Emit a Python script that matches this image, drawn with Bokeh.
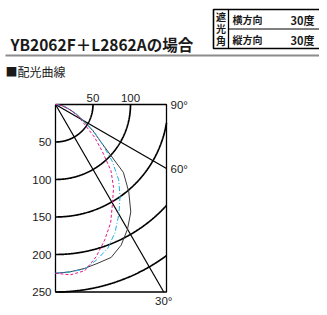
from bokeh.plotting import figure
from bokeh.models import Range1d, Label
from bokeh.embed import file_html
from bokeh.resources import INLINE
from bokeh.core.properties import value
import numpy as np

# ---- data ----
angles = [0, 5, 10, 15, 20, 25, 30, 35, 40, 45, 50, 55, 60, 65, 70, 75, 80, 85, 90]
black_cd = [225, 224, 222, 219, 217, 207, 192, 175, 152, 128, 81, 61, 42, 31, 21, 14, 9, 4, 0]
cyan_cd = [225, 224, 223, 214, 204, 188, 169, 150, 131, 107, 81, 62, 42, 31, 21, 14, 8, 3, 0]
magenta_cd = [225, 228, 225, 210, 192, 174, 152, 135, 115, 88, 68, 49, 38, 28, 20, 13, 8, 3, 0]

radius_ticks = [50, 100, 150, 200, 250]
radius_labels = ["50", "100", "150", "200", "250"]
top_ticks = [50, 100]
top_labels = ["50", "100"]
angle_lines = [30, 60]
angle_label_90 = "90°"
angle_label_60 = "60°"
angle_label_30 = "30°"

title_text = "YB2062F＋L2862Aの場合"
subtitle_text = "■配光曲線"
table_head = ["遮", "光", "角"]
table_rows = ["横方向", "縦方向"]
table_vals = ["30度", "30度"]

# ---- layout ----
W, H = 319, 307
PAGE = 0
OX, OY = 55, 104      # pixel of polar origin
S = 0.75              # px per cd
XMAX = 148            # box right edge (cd)
RMAX = 250            # box bottom (cd)


def X(px):
    return (px - OX) / S


def Y(py):
    return -(py - OY) / S


p = figure(width=W, height=H,
           x_range=Range1d(X(PAGE), X(PAGE + W)),
           y_range=Range1d(Y(PAGE + H), Y(PAGE)),
           output_backend="svg", toolbar_location=None, min_border=0,
           x_axis_location=None, y_axis_location=None)
p.grid.visible = False
p.outline_line_color = None
p.background_fill_color = "white"
p.border_fill_color = "white"

NUM_FONT = value("Liberation Sans")

# ---- polar grid ----
for r in radius_ticks:
    tend = np.arcsin(min(1.0, XMAX / r))
    th = np.linspace(0, tend, 200)
    p.line(r * np.sin(th), -r * np.cos(th), line_color="black", line_width=1.7)

for a in angle_lines:
    ar = np.radians(a)
    t = min(XMAX / np.sin(ar), RMAX / np.cos(ar))
    p.line([0, t * np.sin(ar)], [0, -t * np.cos(ar)], line_color="black", line_width=1.2)

p.line([0, XMAX, XMAX, 0, 0], [0, 0, -RMAX, -RMAX, 0], line_color="black", line_width=1.3)

# ---- curves ----
th = np.radians(angles)


def polar(vals):
    v = np.array(vals, dtype=float)
    return v * np.sin(th), -v * np.cos(th)


bx, by = polar(black_cd)
p.line(bx, by, line_color="#3a3a3a", line_width=1.0)
cx, cy = polar(cyan_cd)
p.line(cx, cy, line_color="#1eaee6", line_width=1.0, line_dash="5 2 1 2")
mx, my = polar(magenta_cd)
p.line(mx, my, line_color="#e8158c", line_width=1.0, line_dash="3 2")

# ---- tick labels ----
p.text(x=top_ticks, y=[0] * len(top_ticks), text=top_labels, text_align="center",
       text_baseline="bottom", y_offset=-3, text_font=NUM_FONT, text_font_size="11.5px",
       text_color="#1a1a1a")
p.text(x=[0] * len(radius_ticks), y=[-r for r in radius_ticks], text=radius_labels,
       text_align="right", text_baseline="middle", x_offset=-4, text_font=NUM_FONT,
       text_font_size="11.5px", text_color="#1a1a1a")

a60 = np.radians(60)
a30 = np.radians(30)
p.text(x=[XMAX, XMAX], y=[0, -XMAX / np.tan(a60)], text=[angle_label_90, angle_label_60],
       text_align="left", text_baseline="middle", x_offset=4, text_font=NUM_FONT,
       text_font_size="11.5px", text_color="#1a1a1a")
p.text(x=[RMAX * np.tan(a30)], y=[-RMAX], text=[angle_label_30], text_align="center",
       text_baseline="top", y_offset=3, text_font=NUM_FONT, text_font_size="11.5px",
       text_color="#1a1a1a")

# ---- header ----
p.add_layout(Label(x=X(10), y=Y(43), text=title_text, text_font="Noto Sans CJK JP",
                   text_font_style="bold", text_font_size="15.5px", text_baseline="middle",
                   text_align="left", text_color="#1a1a1a"))
p.line([X(5), X(PAGE + W + 5)], [Y(55), Y(55)], line_color="#8c8c8c", line_width=2)
p.add_layout(Label(x=X(5), y=Y(71), text=subtitle_text, text_font="Noto Sans CJK JP",
                   text_font_size="12px", text_baseline="middle", text_align="left",
                   text_color="#1a1a1a"))

# table
TL, TD, TT, TB, TM = 213, 228, 9, 48, 28.5
p.line([X(PAGE + W + 5), X(TL), X(TL), X(PAGE + W + 5)], [Y(TT), Y(TT), Y(TB), Y(TB)],
       line_color="black", line_width=1.6)
p.line([X(TD), X(TD)], [Y(TT), Y(TB)], line_color="black", line_width=1.3)
p.line([X(TD), X(PAGE + W + 5)], [Y(TM), Y(TM)], line_color="black", line_width=1.0)
for i, ch in enumerate(table_head):
    p.add_layout(Label(x=X((TL + TD) / 2), y=Y(16 + 12 * i), text=ch,
                       text_font="Noto Sans CJK JP", text_font_style="bold",
                       text_font_size="10px", text_baseline="middle", text_align="center",
                       text_color="#1a1a1a"))
for i in range(2):
    yy = Y(19 + 20 * i)
    p.add_layout(Label(x=X(232), y=yy, text=table_rows[i], text_font="Noto Sans CJK JP",
                       text_font_style="bold", text_font_size="10px", text_baseline="middle",
                       text_align="left", text_color="#1a1a1a"))
    p.add_layout(Label(x=X(290), y=yy, text=table_vals[i], text_font="Noto Sans CJK JP",
                       text_font_style="bold", text_font_size="11px", text_baseline="middle",
                       text_align="left", text_color="#1a1a1a"))

open("out.html", "w").write(file_html(p, INLINE))
